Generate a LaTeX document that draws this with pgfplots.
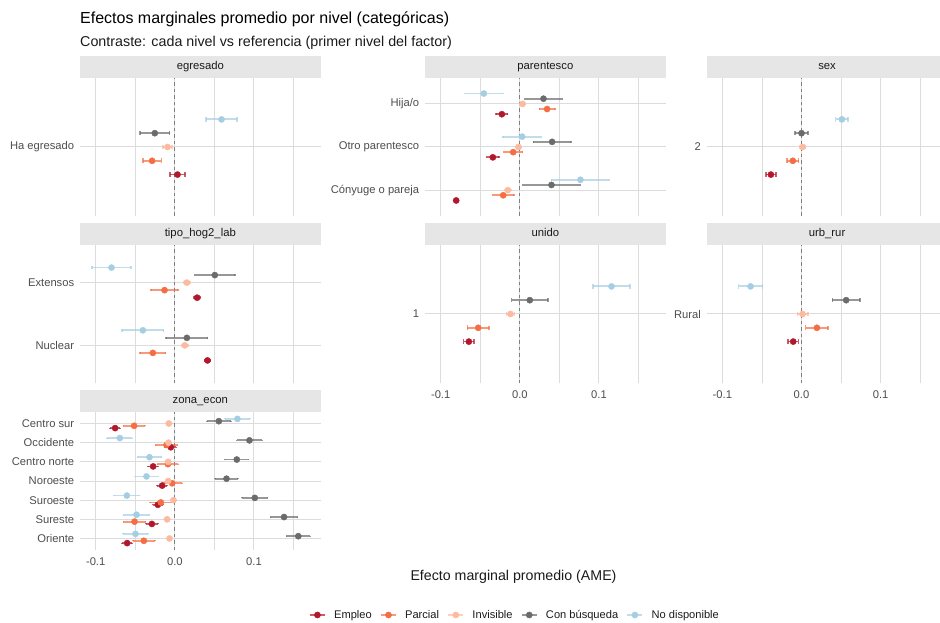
\documentclass[border=0pt]{standalone}
\usepackage{fontspec}
\setmainfont{Liberation Sans}
\usepackage{pgfplots}
\pgfplotsset{compat=1.18}
\usepackage{pgfplotstable}

\definecolor{cE}{HTML}{B2182B}
\definecolor{cP}{HTML}{F46D43}
\definecolor{cI}{HTML}{FCBBA1}
\definecolor{cC}{HTML}{6B6B6B}
\definecolor{cN}{HTML}{A6CEE3}
\definecolor{gridc}{HTML}{DCDCDC}
\definecolor{stripc}{HTML}{E6E6E6}
\definecolor{stript}{HTML}{1A1A1A}
\definecolor{tickc}{HTML}{4D4D4D}
\definecolor{dashc}{HTML}{808080}

% columns: c = category position; x?/e? = estimate / CI half-width
\pgfplotstableread{
c xE eE xP eP xI eI xC eC xN eN
1 0.0034 0.0097 -0.0287 0.0118 -0.0092 0.0057 -0.0253 0.0187 0.0590 0.0193
}\tEgr
\pgfplotstableread{
c xE eE xP eP xI eI xC eC xN eN
1 -0.0804 0.0030 -0.0210 0.0135 -0.0152 0.0040 0.0400 0.0366 0.0766 0.0366
2 -0.0341 0.0078 -0.0084 0.0120 -0.0017 0.0040 0.0408 0.0238 0.0029 0.0242
3 -0.0227 0.0072 0.0345 0.0099 0.0034 0.0030 0.0299 0.0238 -0.0455 0.0242
}\tPar
\pgfplotstableread{
c xE eE xP eP xI eI xC eC xN eN
1 -0.0387 0.0063 -0.0110 0.0072 0.0013 0.0030 0.0000 0.0084 0.0510 0.0078
}\tSex
\pgfplotstableread{
c xE eE xP eP xI eI xC eC xN eN
1 0.0413 0.0040 -0.0278 0.0162 0.0126 0.0040 0.0152 0.0263 -0.0404 0.0261
2 0.0282 0.0040 -0.0130 0.0168 0.0152 0.0040 0.0505 0.0255 -0.0800 0.0248
}\tTip
\pgfplotstableread{
c xE eE xP eP xI eI xC eC xN eN
1 -0.0644 0.0065 -0.0526 0.0137 -0.0118 0.0050 0.0126 0.0230 0.1158 0.0234
}\tUni
\pgfplotstableread{
c xE eE xP eP xI eI xC eC xN eN
1 -0.0105 0.0065 0.0194 0.0143 0.0013 0.0067 0.0564 0.0175 -0.0644 0.0152
}\tUrb
\pgfplotstableread{
c xE eE xP eP xI eI xC eC xN eN
1 -0.0602 0.0063 -0.0392 0.0139 -0.0067 0.0040 0.1560 0.0152 -0.0497 0.0156
2 -0.0290 0.0076 -0.0509 0.0141 -0.0097 0.0040 0.1380 0.0173 -0.0484 0.0166
3 -0.0215 0.0067 -0.0177 0.0137 -0.0017 0.0040 0.1010 0.0162 -0.0606 0.0162
4 -0.0160 0.0063 -0.0034 0.0126 -0.0084 0.0040 0.0653 0.0145 -0.0358 0.0150
5 -0.0274 0.0063 -0.0088 0.0133 -0.0084 0.0040 0.0783 0.0150 -0.0320 0.0154
6 -0.0051 0.0070 -0.0105 0.0141 -0.0080 0.0040 0.0943 0.0162 -0.0695 0.0160
7 -0.0754 0.0063 -0.0514 0.0137 -0.0076 0.0040 0.0556 0.0152 0.0791 0.0160
}\tZon

\pgfplotsset{
  panel/.style={
    scale only axis, width=240.7pt, height=138pt,
    anchor=south west,
    xmin=-0.1198, xmax=0.1843, ymin=0.4,
    axis line style={draw=none},
    major tick length=0pt, minor tick length=0pt,
    xtick={-0.1,0,0.1}, minor xtick={-0.05,0.05,0.15},
    xticklabels={-0.1,0.0,0.1},
    xmajorgrids, xminorgrids, ymajorgrids,
    major grid style={line width=1.0pt, color=gridc},
    minor grid style={line width=0.9pt, color=gridc},
    tick label style={font=\fontsize{11.2}{13}\selectfont, color=tickc},
    xticklabel style={yshift=-4.3pt},
    yticklabel style={xshift=-2.3pt},
    every axis title/.style={at={(0.5,1)}, anchor=south, fill=stripc,
      minimum width=240.7pt, minimum height=22pt, inner sep=0pt,
      text height=8.2pt, text depth=2.4pt, text=stript,
      font=\fontsize{11.3}{13}\selectfont},
  },
  noxlab/.style={xticklabels={}},
  ser/.style 2 args={forget plot, only marks, mark=*, mark size=3.1pt, color=#1,
    mark options={solid, fill=#1, draw=#1},
    error bars/.cd, x dir=both, x explicit,
    error bar style={line width=1.8pt, color=#1, opacity=0.7},
    error mark options={rotate=90, mark size=#2, line width=1.5pt, color=#1, opacity=0.7}},
}

\newcommand{\zeroline}[1]{\addplot[forget plot, color=dashc, line width=0.8pt, dash pattern=on 3.5pt off 3pt] coordinates {(0,0.4) (0,#1)};}
\newcommand{\fiveseries}[2]{%
  \addplot[ser={cE}{#2}] table[x=xE, y expr=\thisrow{c}-0.24, x error=eE]{#1};
  \addplot[ser={cP}{#2}] table[x=xP, y expr=\thisrow{c}-0.12, x error=eP]{#1};
  \addplot[ser={cI}{#2}] table[x=xI, y expr=\thisrow{c}, x error=eI]{#1};
  \addplot[ser={cC}{#2}] table[x=xC, y expr=\thisrow{c}+0.12, x error=eC]{#1};
  \addplot[ser={cN}{#2}] table[x=xN, y expr=\thisrow{c}+0.24, x error=eN]{#1};
}

\begin{document}
\begin{tikzpicture}
\useasboundingbox (0pt,0pt) rectangle (940pt,622pt);

\node[anchor=base west, inner sep=0pt, font=\fontsize{16}{19}\selectfont] at (80pt,598pt) {Efectos marginales promedio por nivel (categóricas)};
\node[anchor=base west, inner sep=0pt, font=\fontsize{14.3}{17}\selectfont, text=stript] at (80pt,575.5pt) {Contraste: cada nivel vs referencia (primer nivel del factor)};
\node[anchor=base, inner sep=0pt, font=\fontsize{14.2}{17}\selectfont, text=stript] at (513.5pt,42pt) {Efecto marginal promedio (AME)};

% Row 1
\begin{axis}[panel, noxlab, at={(80pt,406pt)}, ymax=1.6, ytick={1}, yticklabels={Ha egresado}, title={egresado}]
\zeroline{1.6}
\fiveseries{\tEgr}{2.3pt}
\end{axis}
\begin{axis}[panel, noxlab, at={(425pt,406pt)}, ymax=3.6, ytick={1,2,3}, yticklabels={Cónyuge o pareja,Otro parentesco,Hija/o}, title={parentesco}]
\zeroline{3.6}
\fiveseries{\tPar}{0.9pt}
\end{axis}
\begin{axis}[panel, noxlab, at={(706.7pt,406pt)}, ymax=1.6, ytick={1}, yticklabels={2}, title={sex}]
\zeroline{1.6}
\fiveseries{\tSex}{2.3pt}
\end{axis}

% Row 2
\begin{axis}[panel, noxlab, at={(80pt,239pt)}, ymax=2.6, ytick={1,2}, yticklabels={Nuclear,Extensos}, title={tipo\_hog2\_lab}]
\zeroline{2.6}
\fiveseries{\tTip}{1.3pt}
\end{axis}
\begin{axis}[panel, at={(425pt,239pt)}, ymax=1.6, ytick={1}, yticklabels={1}, title={unido}]
\zeroline{1.6}
\fiveseries{\tUni}{2.3pt}
\end{axis}
\begin{axis}[panel, at={(706.7pt,239pt)}, ymax=1.6, ytick={1}, yticklabels={Rural}, title={urb\_rur}]
\zeroline{1.6}
\fiveseries{\tUrb}{2.3pt}
\end{axis}

% Row 3
\begin{axis}[panel, at={(80pt,72pt)}, ymax=7.6, ytick={1,...,7},
  yticklabels={Oriente,Sureste,Suroeste,Noroeste,Centro norte,Occidente,Centro sur},
  title={zona\_econ},
  legend columns=5,
  legend style={at={(1.807,-0.471)}, anchor=center, draw=none, fill=none, inner sep=0pt,
    font=\fontsize{11.1}{13}\selectfont, text=stript, column sep=6.3pt},
  legend cell align=left,
  legend image code/.code={\draw[#1, line width=1.8pt, opacity=0.7] (0pt,0pt) -- (15pt,0pt);
     \fill[#1] (7.5pt,0pt) circle (3.1pt);}]
\zeroline{7.6}
\fiveseries{\tZon}{0.45pt}
\addlegendimage{color=cE}\addlegendentry{Empleo}
\addlegendimage{color=cP}\addlegendentry{Parcial}
\addlegendimage{color=cI}\addlegendentry{Invisible}
\addlegendimage{color=cC}\addlegendentry{Con búsqueda}
\addlegendimage{color=cN}\addlegendentry{No disponible}
\end{axis}
\end{tikzpicture}
\end{document}
